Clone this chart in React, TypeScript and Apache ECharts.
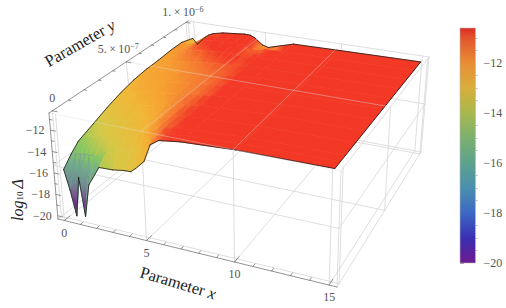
import React, { useEffect, useRef } from "react";
import * as echarts from "echarts";

// ---------- data ----------
const xs = [0, 0.3, 0.6, 0.9, 1.15, 1.5, 2.2, 3, 3.7, 4.1, 4.4, 4.9, 5.3, 5.8, 7, 10, 15];
const ys = [0, 5e-8, 1e-7, 2e-7, 3e-7, 4e-7, 5e-7, 6e-7, 7e-7, 8e-7, 9e-7, 1e-6];
const zRow00 = [-15.77, -17.6, -19.9, -16.2, -19.75, -16.7, -14.85, -14.8, -14.63, -14.6, -14.2, -13.4, -11.75, -11.2, -10.93, -10.66, -10.57];
const zRow05 = [-14.9, -14.8, -14.7, -14.6, -14.6, -14.6, -14.0, -13.7, -13.5, -13.3, -12.6, -11.9, -11.45, -11.15, -10.95, -10.68, -10.58];
const zRow10 = [-14.2, -13.95, -13.75, -13.6, -13.55, -13.45, -13.2, -12.9, -12.5, -12.1, -11.9, -11.5, -11.3, -11.15, -10.95, -10.7, -10.6];
const zRow20 = [-13.6, -13.3, -13.1, -13.0, -12.95, -12.85, -12.65, -12.35, -12.0, -11.8, -11.6, -11.4, -11.25, -11.12, -10.95, -10.72, -10.62];
const zRow30 = [-13.0, -12.7, -12.55, -12.45, -12.4, -12.3, -12.15, -11.95, -11.75, -11.6, -11.5, -11.35, -11.25, -11.12, -10.95, -10.75, -10.65];
const zRow40 = [-12.5, -12.3, -12.18, -12.1, -12.05, -12.0, -11.88, -11.75, -11.6, -11.52, -11.45, -11.35, -11.25, -11.12, -10.95, -10.78, -10.67];
const zRow50 = [-12.15, -12.0, -11.93, -11.9, -11.88, -11.85, -11.78, -11.65, -11.55, -11.48, -11.42, -11.32, -11.22, -11.1, -10.95, -10.8, -10.7];
const zRow60 = [-11.95, -11.87, -11.85, -11.82, -11.8, -11.78, -11.7, -11.55, -11.45, -11.4, -11.35, -11.28, -11.2, -11.08, -10.95, -10.82, -10.73];
const zRow70 = [-11.88, -11.85, -11.8, -11.75, -11.72, -11.65, -11.55, -11.35, -11.25, -11.2, -11.2, -11.2, -11.15, -11.05, -10.95, -10.85, -10.76];
const zRow80 = [-11.74, -11.72, -11.68, -11.6, -11.5, -11.35, -11.2, -11.05, -10.98, -10.98, -11.02, -11.1, -11.1, -11.0, -10.92, -10.87, -10.79];
const zRow90 = [-11.7, -11.75, -11.75, -11.6, -11.35, -11.1, -10.95, -10.85, -10.82, -10.88, -11.1, -11.3, -11.3, -11.1, -10.93, -10.9, -10.82];
const zRow100 = [-12.08, -12.65, -12.2, -11.75, -11.45, -11.2, -10.95, -10.83, -10.72, -10.75, -10.95, -11.6, -11.78, -11.55, -11.0, -10.93, -10.84];
const zRows = [zRow00, zRow05, zRow10, zRow20, zRow30, zRow40, zRow50, zRow60, zRow70, zRow80, zRow90, zRow100];
// shade of the cliff along the front edge, which is lit brighter than its height
const shadeRow00 = [-15.77, -17.6, -19.9, -16.2, -19.75, -16.7, -13.7, -13.3, -13.0, -12.9, -12.7, -12.4, -11.6, -11.2, -10.93, -10.66, -10.57];
const shadeRow05 = [-14.9, -14.7, -14.5, -14.3, -14.2, -14.0, -13.5, -13.1, -12.9, -12.7, -12.4, -11.9, -11.45, -11.15, -10.95, -10.68, -10.58];
const shadeRow10 = [-14.2, -13.95, -13.75, -13.55, -13.45, -13.3, -13.0, -12.8, -12.5, -12.1, -11.9, -11.5, -11.3, -11.15, -10.95, -10.7, -10.6];
const shadeRows = [shadeRow00, shadeRow05, shadeRow10];

const xTicks = [0, 5, 10, 15];
const yTicks = [0, 5e-7, 1e-6];
const zTicks = [-20, -18, -16, -14, -12];
const xMinor = [1, 2, 3, 4, 6, 7, 8, 9, 11, 12, 13, 14];
const yMinor = [1e-7, 2e-7, 3e-7, 4e-7, 6e-7, 7e-7, 8e-7, 9e-7];
const zMinor = [-19, -17, -15, -13, -11];
const zGrid = [-15.3];
const barMajor = [-20, -18, -16, -14, -12];
const barMinor = [-19.5, -19, -18.5, -17.5, -17, -16.5, -15.5, -15, -14.5, -13.5, -13, -12.5, -11.5, -11];

// ---------- view ----------
const X_MIN = -0.4, X_MAX = 15.4;
const Y_MIN = -2e-8, Y_MAX = 1.02e-6;
const Z_MIN = -20.3, Z_MAX = -10.4;
const BOX_BOTTOM = [[58, 219], [337, 287], [421, 152], [196, 110]];
const BOX_TOP = [[49, 113], [341, 171], [429, 57], [188, 21]];

function homography(p: number[][]) {
  const [x0, y0] = p[0], [x1, y1] = p[1], [x2, y2] = p[2], [x3, y3] = p[3];
  const dx1 = x1 - x2, dx2 = x3 - x2, sx = x0 - x1 + x2 - x3;
  const dy1 = y1 - y2, dy2 = y3 - y2, sy = y0 - y1 + y2 - y3;
  const den = dx1 * dy2 - dx2 * dy1;
  const g = (sx * dy2 - dx2 * sy) / den;
  const h = (dx1 * sy - sx * dy1) / den;
  const a = x1 - x0 + g * x1, b = x3 - x0 + h * x3;
  const d = y1 - y0 + g * y1, e = y3 - y0 + h * y3;
  return (u: number, v: number) => {
    const w = g * u + h * v + 1;
    return [(a * u + b * v + x0) / w, (d * u + e * v + y0) / w];
  };
}
const hBottom = homography(BOX_BOTTOM);
const hTop = homography(BOX_TOP);
function project(x: number, y: number, z: number) {
  const u = (x - X_MIN) / (X_MAX - X_MIN), v = (y - Y_MIN) / (Y_MAX - Y_MIN), w = (z - Z_MIN) / (Z_MAX - Z_MIN);
  const b = hBottom(u, v), t = hTop(u, v);
  return [b[0] + (t[0] - b[0]) * w, b[1] + (t[1] - b[1]) * w];
}

const SURFACE_STOPS: [number, string][] = [
  [-20.3, "#58167a"], [-19, "#6b2a88"], [-18, "#7a5a8c"], [-17, "#6f8a90"], [-15.5, "#72ab8c"],
  [-14.2, "#88c860"], [-13.2, "#d8c845"], [-12.2, "#f2b535"], [-11.8, "#f6a030"], [-11.4, "#f57530"], [-11.05, "#f33a26"], [-10, "#f33626"],
];
const BAR_STOPS: [number, string][] = [
  [-20, "#6e1a8e"], [-19, "#3a2fb2"], [-18, "#3c68c4"], [-17, "#4a8fae"], [-16, "#5da28e"], [-15, "#7bb070"],
  [-14, "#a8b84c"], [-13, "#d8ae3c"], [-12, "#e88e35"], [-11, "#e2552c"], [-10.6, "#d92b24"],
];
function hex(c: string) {
  return [parseInt(c.slice(1, 3), 16), parseInt(c.slice(3, 5), 16), parseInt(c.slice(5, 7), 16)];
}
function colorAt(z: number) {
  const s = SURFACE_STOPS;
  if (z <= s[0][0]) return s[0][1];
  for (let i = 1; i < s.length; i++) {
    if (z <= s[i][0]) {
      const t = (z - s[i - 1][0]) / (s[i][0] - s[i - 1][0]);
      const a = hex(s[i - 1][1]), b = hex(s[i][1]);
      return `rgb(${a.map((v, k) => Math.round(v + (b[k] - v) * t)).join(",")})`;
    }
  }
  return s[s.length - 1][1];
}

type Seg = number[];
function seg(a: number[], b: number[]): Seg { return [...a, ...b]; }
const X0 = X_MIN, X1 = X_MAX, Y0 = Y_MIN, Y1 = Y_MAX, Z0 = Z_MIN, Z1 = Z_MAX;

// grid lines behind the surface
const backLines: Seg[] = [
  seg([X0, Y1, Z0], [X1, Y1, Z0]), seg([X0, Y0, Z0], [X0, Y1, Z0]), seg([X1, Y0, Z0], [X1, Y1, Z0]),
  seg([X0, Y1, Z0], [X0, Y1, Z1]), seg([X1, Y1, Z0], [X1, Y1, Z1]), seg([X1, Y0, Z0], [X1, Y0, Z1]),
  seg([X1, Y0, Z1], [X1, Y1, Z1]), seg([X0, Y1, Z1], [X1, Y1, Z1]),
  ...xTicks.flatMap((x) => [
    seg([x, Y0, Z0], [x, Y1, Z0]), seg([x, Y1, Z0], [x, Y1, Z1]), seg([x, Y0, Z0], [x, Y0, Z1]),
  ]),
  ...yTicks.flatMap((y) => [
    seg([X0, y, Z0], [X1, y, Z0]), seg([X0, y, Z0], [X0, y, Z1]), seg([X1, y, Z0], [X1, y, Z1]),
  ]),
  ...zGrid.flatMap((z) => [
    seg([X0, Y1, z], [X1, Y1, z]), seg([X1, Y0, z], [X1, Y1, z]), seg([X0, Y0, z], [X1, Y0, z]), seg([X0, Y0, z], [X0, Y1, z]),
  ]),
];
// lines on the top face, seen over the surface
const topLines: Seg[] = [
  seg([X0, Y0, Z1], [X1, Y0, Z1]),
  ...xTicks.slice(1, 3).map((x) => seg([x, Y0, Z1], [x, Y1, Z1])),
  ...yTicks.slice(1, 2).map((y) => seg([X0, y, Z1], [X1, y, Z1])),
];
// axes with their ticks
const axisLines: Seg[] = [
  seg([X0, Y0, Z0], [X1, Y0, Z0]), seg([X0, Y0, Z0], [X0, Y0, Z1]), seg([X0, Y0, Z1], [X0, Y1, Z1]),
  ...xTicks.map((x) => seg([x, Y0, Z0], [x, 1.4e-8, Z0])),
  ...xMinor.map((x) => seg([x, Y0, Z0], [x, -4e-9, Z0])),
  ...yTicks.map((y) => seg([X0, y, Z1], [-0.1, y, Z1])),
  ...yMinor.map((y) => seg([X0, y, Z1], [-0.25, y, Z1])),
  ...zTicks.map((z) => seg([X0, Y0, z], [-0.1, Y0, z])),
  ...zMinor.map((z) => seg([X0, Y0, z], [-0.25, Y0, z])),
];
const outline: Seg[] = [];
for (let i = 0; i + 1 < xs.length; i++) {
  const n = ys.length - 1;
  outline.push(seg([xs[i], ys[0], zRows[0][i]], [xs[i + 1], ys[0], zRows[0][i + 1]]));
  outline.push(seg([xs[i], ys[n], zRows[n][i]], [xs[i + 1], ys[n], zRows[n][i + 1]]));
}
for (let j = 0; j + 1 < ys.length; j++) {
  const n = xs.length - 1;
  outline.push(seg([xs[0], ys[j], zRows[j][0]], [xs[0], ys[j + 1], zRows[j + 1][0]]));
  outline.push(seg([xs[n], ys[j], zRows[j][n]], [xs[n], ys[j + 1], zRows[j + 1][n]]));
}

const shadeOf = (j: number, i: number) => (j < shadeRows.length ? shadeRows[j][i] : zRows[j][i]);
const quads: number[][] = [];
for (let j = ys.length - 2; j >= 0; j--) {
  for (let i = 0; i + 1 < xs.length; i++) {
    quads.push([
      xs[i], xs[i + 1], ys[j], ys[j + 1],
      zRows[j][i], zRows[j][i + 1], zRows[j + 1][i + 1], zRows[j + 1][i],
      shadeOf(j, i), shadeOf(j, i + 1), shadeOf(j + 1, i + 1), shadeOf(j + 1, i),
    ]);
  }
}

function segmentSeries(name: string, data: Seg[], stroke: string, width: number, z: number) {
  return {
    type: "custom", name, z, silent: true, xAxisIndex: 0, yAxisIndex: 0, clip: false,
    data,
    renderItem: (_: any, api: any) => {
      const a = api.coord(project(api.value(0), api.value(1), api.value(2)));
      const b = api.coord(project(api.value(3), api.value(4), api.value(5)));
      return {
        type: "line",
        shape: { x1: a[0], y1: a[1], x2: b[0], y2: b[1] },
        style: { stroke, lineWidth: width, lineCap: "round", fill: "none" },
      };
    },
  };
}

const SERIF = "Liberation Serif";
const GREY = "#555";
const tickText = (text: string, x: number, y: number, align = "center") => ({
  type: "text", x, y, silent: true,
  style: { text, x: 0, y: 0, align, verticalAlign: "middle", fontFamily: SERIF, fontSize: 12, fill: GREY },
});
const supRich = { sup: { fontSize: 8, fontFamily: SERIF, fill: GREY, verticalAlign: "top", padding: [0, 0, 5, 0] } };

export default function App() {
  const ref = useRef<HTMLDivElement>(null);
  useEffect(() => {
    document.body.style.margin = "0";
    const chart = echarts.init(ref.current!, undefined, { renderer: "svg" });
    const labels: any[] = [];
    xTicks.forEach((x) => {
      const p = project(x, Y0, Z_MIN);
      labels.push(tickText(String(x), p[0], p[1] + 12));
    });
    zTicks.forEach((z) => {
      const p = project(X0, Y0, z);
      labels.push(tickText(`\u2212${Math.abs(z)}`, p[0] - 6, p[1], "right"));
    });
    const y0 = project(X0, yTicks[0], Z_MAX);
    labels.push(tickText("0", y0[0], y0[1] - 13));
    const y1 = project(X0, yTicks[1], Z_MAX);
    labels.push({
      type: "text", x: y1[0] - 8, y: y1[1] - 13, silent: true,
      style: { text: "5.\u2009×\u200910{sup|\u22127}", align: "center", verticalAlign: "middle", fontFamily: SERIF, fontSize: 12, fill: GREY, rich: supRich },
    });
    const y2 = project(X0, yTicks[2], Z_MAX);
    labels.push({
      type: "text", x: y2[0] - 3, y: y2[1] - 10, silent: true,
      style: { text: "1.\u2009×\u200910{sup|\u22126}", align: "center", verticalAlign: "middle", fontFamily: SERIF, fontSize: 12, fill: GREY, rich: supRich },
    });
    const italic = { fontStyle: "italic", fontSize: 16.5, fontFamily: SERIF, fill: "#222" };
    labels.push({
      type: "text", x: 80, y: 43, rotation: 0.52, silent: true,
      style: { text: "Parameter {i|y}", align: "center", verticalAlign: "middle", fontFamily: SERIF, fontSize: 16.5, fill: "#222", rich: { i: italic } },
    });
    labels.push({
      type: "text", x: 178, y: 283, rotation: -0.29, silent: true,
      style: { text: "Parameter {i|x}", align: "center", verticalAlign: "middle", fontFamily: SERIF, fontSize: 16.5, fill: "#222", rich: { i: italic } },
    });
    labels.push({
      type: "text", x: 17, y: 200, rotation: Math.PI / 2, silent: true,
      style: { text: "log{s|10}\u2009\u0394", align: "center", verticalAlign: "middle", fontFamily: SERIF, fontStyle: "italic", fontSize: 16, fill: "#222",
        rich: { s: { fontSize: 9, fontFamily: SERIF, fill: "#222", padding: [6, 0, 0, 0] } } },
    });

    chart.setOption({
      animation: false,
      backgroundColor: "#fff",
      textStyle: { fontFamily: SERIF },
      grid: [
        { left: 0, top: 0, width: 506, height: 308 },
        { left: 460, top: 28, width: 15.5, height: 235 },
      ],
      xAxis: [
        { type: "value", min: 0, max: 506, show: false, gridIndex: 0 },
        { type: "value", min: 0, max: 1, show: false, gridIndex: 1 },
      ],
      yAxis: [
        { type: "value", min: 0, max: 308, inverse: true, show: false, gridIndex: 0 },
        {
          type: "value", gridIndex: 1, position: "right", min: -20, max: -10.6, interval: 2,
          axisLine: { show: false }, splitLine: { show: false },
          axisTick: { show: true, length: 4, lineStyle: { color: "#999", width: 1 }, customValues: barMajor },
          axisLabel: {
            customValues: barMajor, margin: 8, fontSize: 12, fontFamily: SERIF, color: GREY,
            formatter: (v: number) => `\u2212${Math.abs(v)}`,
          },
        },
        {
          type: "value", gridIndex: 1, position: "right", min: -20, max: -10.6, interval: 2,
          axisLine: { show: false }, splitLine: { show: false }, axisLabel: { show: false },
          axisTick: { show: true, length: 2, lineStyle: { color: "#bbb", width: 1 }, customValues: barMinor },
        },
      ],
      graphic: labels,
      series: [
        segmentSeries("box back", backLines, "#d6d6d6", 0.8, 1),
        {
          type: "custom", name: "surface", z: 2, silent: true, xAxisIndex: 0, yAxisIndex: 0, clip: false,
          data: quads,
          renderItem: (_: any, api: any) => {
            const x0 = api.value(0), x1 = api.value(1), y0q = api.value(2), y1q = api.value(3);
            const zs = [api.value(4), api.value(5), api.value(6), api.value(7)];
            const cs = [api.value(8), api.value(9), api.value(10), api.value(11)];
            const corners = [[x0, y0q], [x1, y0q], [x1, y1q], [x0, y1q]];
            const pts = corners.map((c, k) => api.coord(project(c[0], c[1], zs[k])));
            let lo = 0, hi = 0;
            cs.forEach((z, k) => { if (z < cs[lo]) lo = k; if (z > cs[hi]) hi = k; });
            const zl = cs[lo], zh = cs[hi];
            const mean = (cs[0] + cs[1] + cs[2] + cs[3]) / 4;
            let fill: any = colorAt(mean);
            if (zh - zl > 0.01) {
              const stops = [{ offset: 0, color: colorAt(zl) }];
              SURFACE_STOPS.forEach((s) => {
                if (s[0] > zl && s[0] < zh) stops.push({ offset: (s[0] - zl) / (zh - zl), color: s[1] });
              });
              stops.push({ offset: 1, color: colorAt(zh) });
              fill = new echarts.graphic.LinearGradient(pts[lo][0], pts[lo][1], pts[hi][0], pts[hi][1], stops, true);
            }
            return {
              type: "polygon",
              shape: { points: pts },
              style: { fill, stroke: colorAt(mean), lineWidth: 0.7 },
            };
          },
        },
        segmentSeries("surface outline", outline, "#1a1a1a", 0.8, 3),
        segmentSeries("box top", topLines, "rgba(220,220,220,0.45)", 0.9, 4),
        segmentSeries("axes", axisLines, "#777", 0.8, 5),
        {
          type: "custom", name: "colour bar", z: 2, silent: true, xAxisIndex: 1, yAxisIndex: 1, clip: false,
          data: [[0, -20, 1, -10.6]],
          renderItem: (_: any, api: any) => {
            const a = api.coord([api.value(0), api.value(1)]);
            const b = api.coord([api.value(2), api.value(3)]);
            const lo = BAR_STOPS[0][0], hi = BAR_STOPS[BAR_STOPS.length - 1][0];
            return {
              type: "rect",
              shape: { x: a[0], y: b[1], width: b[0] - a[0], height: a[1] - b[1] },
              style: {
                fill: new echarts.graphic.LinearGradient(0, 1, 0, 0,
                  BAR_STOPS.map((s) => ({ offset: (s[0] - lo) / (hi - lo), color: s[1] }))),
                stroke: "#bbb", lineWidth: 0.6,
              },
            };
          },
        },
      ],
    });
    return () => chart.dispose();
  }, []);
  return <div ref={ref} style={{ position: "absolute", left: 0, top: 0, width: 506, height: 308 }} />;
}
